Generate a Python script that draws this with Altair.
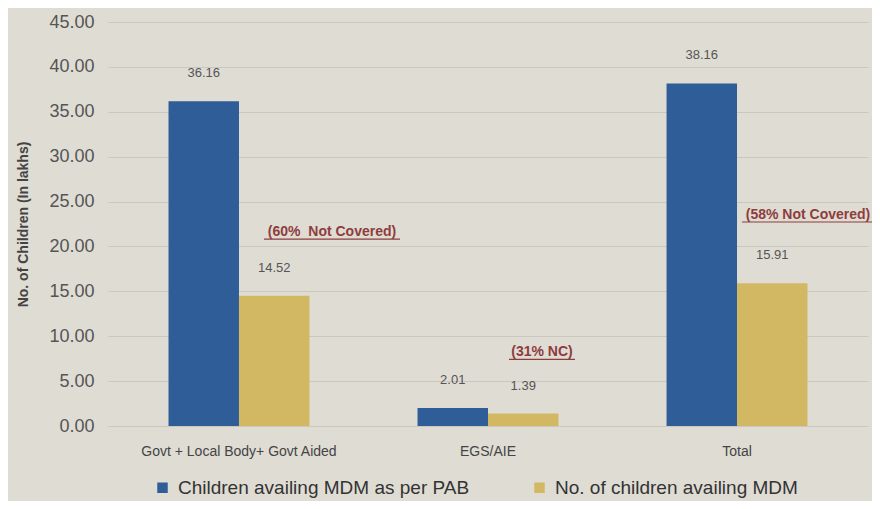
import altair as alt
import pandas as pd

categories = ["Govt + Local Body+ Govt Aided", "EGS/AIE", "Total"]
series = ["Children availing MDM as per PAB", "No. of children availing MDM"]
pab_values = [36.16, 2.01, 38.16]
availing_values = [14.52, 1.39, 15.91]
value_labels_pab = ["36.16", "2.01", "38.16"]
value_labels_avail = ["14.52", "1.39", "15.91"]
y_ticks = [0, 5, 10, 15, 20, 25, 30, 35, 40, 45]

notes_text = ["(60%\u00a0 Not Covered)", "(31% NC)", "(58% Not Covered)"]
notes_cat = ["Govt + Local Body+ Govt Aided", "EGS/AIE", "Total"]
notes_y = [21.6, 8.2, 23.5]

colors = ["#2f5d98", "#d3b863"]

rows = []
for c, v, l in zip(categories, pab_values, value_labels_pab):
    rows.append({"category": c, "series": series[0], "value": v, "label": l})
for c, v, l in zip(categories, availing_values, value_labels_avail):
    rows.append({"category": c, "series": series[1], "value": v, "label": l})
df = pd.DataFrame(rows)

notes = pd.DataFrame({"category": notes_cat, "y": notes_y, "text": notes_text})

x_enc = alt.X("category:N", sort=categories, title=None,
              scale=alt.Scale(paddingInner=0.434, paddingOuter=0.243),
              axis=alt.Axis(labelAngle=0, labelFont="Liberation Sans",
                            labelFontSize=14, labelColor="#444", labelPadding=18,
                            labelLimit=400, domain=False, ticks=False))
y_enc = alt.Y("value:Q", title="No. of Children (In lakhs)",
              scale=alt.Scale(domain=[0, 45], nice=False),
              axis=alt.Axis(values=y_ticks, format=".2f", labelFont="Liberation Sans",
                            labelFontSize=18, labelColor="#555", labelPadding=14,
                            titleFont="Liberation Sans", titleFontSize=14,
                            titleFontWeight="bold", titleColor="#444", titlePadding=18,
                            domain=False, ticks=False, gridColor="#cbc7bf",
                            gridWidth=1))
xoff = alt.XOffset("series:N", sort=series, scale=alt.Scale(paddingInner=0, paddingOuter=0))

bars = alt.Chart(df).mark_bar().encode(
    x=x_enc, y=y_enc, xOffset=xoff,
    color=alt.Color("series:N", sort=series,
                    scale=alt.Scale(domain=series, range=colors),
                    legend=alt.Legend(title=None, orient="none", direction="horizontal",
                                      legendX=45, legendY=456,
                                      symbolType="square", symbolSize=110,
                                      symbolStrokeWidth=0,
                                      labelFont="Liberation Sans", labelFontSize=19,
                                      labelColor="#333", labelLimit=400,
                                      columnPadding=60, labelOffset=6)),
)

labels = alt.Chart(df).mark_text(baseline="middle", dy=-28, font="Liberation Sans",
                                 fontSize=13, color="#555").encode(
    x=alt.X("category:N", sort=categories), y="value:Q", xOffset=xoff, text="label:N")

layers = [bars, labels]
offsets = [93, 54, 71]
widths = [136, 66, 132]
for t, dx, w in zip(notes_text, offsets, widths):
    sub = notes[notes["text"] == t]
    layers.append(alt.Chart(sub).mark_text(baseline="middle", dx=dx, font="Liberation Sans",
                                           fontSize=14, fontWeight="bold", color="#8e3d3d").encode(
        x=alt.X("category:N", sort=categories), y=alt.Y("y:Q"), text="text:N"))
    layers.append(alt.Chart(sub).mark_rule(color="#8e3d3d", strokeWidth=1.2,
                                           xOffset=dx - w / 2, x2Offset=dx + w / 2,
                                           yOffset=7).encode(
        x=alt.X("category:N", sort=categories), x2="category:N", y=alt.Y("y:Q")))

chart = alt.layer(*layers).properties(
    width=760, height=404,
    padding={"left": 100, "top": 14, "right": 4, "bottom": 75},
    autosize=alt.AutoSizeParams(type="none"),
    background="#dfdcd4",
).configure_view(stroke=None)

chart.save("out.html", embed_options={"renderer": "svg", "actions": False})
